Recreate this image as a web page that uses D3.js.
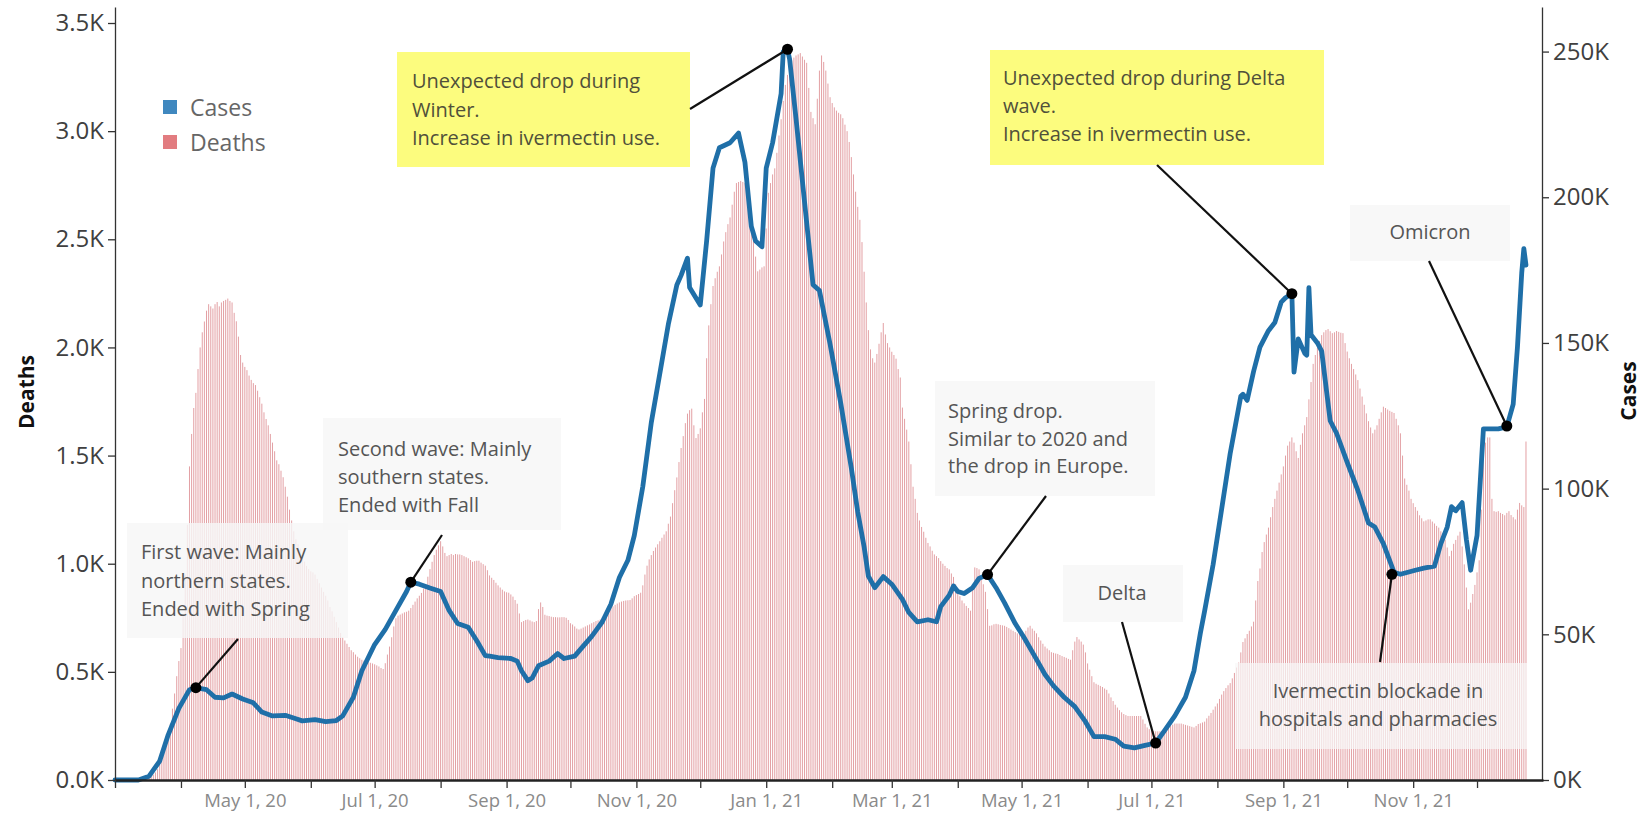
<!DOCTYPE html>
<html>
<head>
<meta charset="utf-8">
<script src="https://cdn.jsdelivr.net/npm/d3@7"></script>
<style>
    html, body { margin: 0; padding: 0; background: #fff; }
    svg { display: block; font-family: "Open Sans", sans-serif; }
</style>
</head>
<body>
<div id="chart"></div>
<script>
// Daily deaths (7-day average), one row per month, starting on the 1st
const deathMonths = [
    "2020-03", "2020-04", "2020-05", "2020-06", "2020-07", "2020-08", "2020-09", "2020-10", "2020-11", "2020-12",
    "2021-01", "2021-02", "2021-03", "2021-04", "2021-05", "2021-06", "2021-07", "2021-08", "2021-09", "2021-10",
    "2021-11", "2021-12"
];
const dailyDeaths = [
    [0, 0, 0, 0, 0, 0, 1, 1, 2, 2, 3, 4, 5, 6, 8, 10, 14, 18, 25, 35, 50, 70, 95, 130, 170, 210, 260, 330, 400, 480, 550],
    [610, 760, 950, 1180, 1450, 1600, 1720, 1790, 1900, 2000, 2070, 2120, 2170, 2200, 2190, 2180, 2200, 2210, 2190, 2208, 2215, 2220, 2226, 2215, 2208, 2160, 2121, 2050, 1965, 1930],
    [1910, 1895, 1870, 1850, 1835, 1826, 1800, 1770, 1740, 1700, 1669, 1640, 1600, 1560, 1520, 1478, 1460, 1430, 1400, 1356, 1310, 1250, 1200, 1150, 1113, 1090, 1070, 1040, 1010, 990, 975],
    [965, 960, 950, 930, 910, 890, 870, 852, 830, 800, 780, 755, 730, 705, 680, 660, 645, 630, 615, 600, 591, 580, 570, 563, 556, 552, 548, 545, 542, 539],
    [535, 530, 525, 518, 513, 540, 580, 617, 660, 710, 748, 760, 765, 770, 775, 778, 783, 795, 810, 825, 840, 852, 865, 885, 904, 940, 975, 1009, 1040, 1065, 1085],
    [1104, 1080, 1050, 1035, 1040, 1045, 1040, 1045, 1043, 1043, 1040, 1035, 1030, 1025, 1017, 1009, 1012, 1014, 1014, 1005, 998, 991, 970, 946, 935, 925, 912, 900, 890, 880, 872],
    [868, 866, 858, 848, 832, 815, 770, 730, 735, 740, 742, 738, 733, 730, 735, 790, 821, 800, 764, 760, 758, 755, 753, 753, 752, 752, 753, 753, 750, 740],
    [725, 719, 710, 700, 696, 700, 705, 710, 715, 719, 725, 730, 735, 738, 742, 752, 765, 777, 787, 795, 803, 810, 816, 821, 825, 828, 830, 831, 832, 840, 850],
    [855, 860, 866, 900, 950, 991, 1020, 1040, 1059, 1075, 1090, 1104, 1120, 1135, 1150, 1185, 1218, 1280, 1340, 1399, 1470, 1535, 1590, 1650, 1694, 1710, 1717, 1640, 1581, 1600],
    [1626, 1700, 1762, 1950, 2102, 2200, 2284, 2320, 2350, 2375, 2430, 2490, 2533, 2570, 2601, 2660, 2720, 2760, 2765, 2770, 2765, 2760, 2760, 2680, 2590, 2511, 2420, 2352, 2360, 2370, 2375],
    [2550, 2715, 2760, 2800, 2828, 2900, 2980, 3055, 3140, 3214, 3260, 3300, 3327, 3340, 3350, 3355, 3361, 3345, 3330, 3316, 3200, 3089, 3060, 3032, 3150, 3280, 3350, 3320, 3280, 3220, 3157],
    [3130, 3110, 3095, 3085, 3078, 3060, 3030, 3000, 2950, 2880, 2800, 2720, 2650, 2590, 2487, 2350, 2208, 2080, 1991, 1950, 1930, 1970, 2017, 2070, 2113, 2060, 2020, 2000],
    [1980, 1965, 1948, 1900, 1861, 1722, 1670, 1620, 1565, 1460, 1356, 1300, 1235, 1200, 1170, 1148, 1120, 1096, 1080, 1060, 1043, 1035, 1026, 1012, 1000, 990, 980, 974, 955, 939, 905],
    [870, 850, 830, 817, 805, 795, 783, 880, 983, 980, 974, 940, 905, 870, 790, 713, 715, 720, 722, 720, 717, 715, 713, 708, 702, 696, 690, 684, 678, 675],
    [672, 670, 690, 705, 713, 700, 690, 678, 660, 645, 630, 617, 608, 600, 591, 588, 585, 583, 578, 573, 569, 565, 560, 556, 600, 640, 661, 650, 640, 626, 590],
    [539, 510, 480, 452, 445, 440, 435, 430, 423, 417, 400, 382, 365, 348, 335, 323, 313, 305, 300, 296, 296, 296, 296, 296, 296, 296, 280, 260, 243, 235],
    [230, 226, 225, 225, 225, 226, 232, 238, 243, 250, 256, 261, 261, 261, 261, 258, 255, 252, 249, 246, 243, 250, 259, 262, 266, 270, 285, 297, 310, 325, 340],
    [354, 375, 395, 411, 425, 438, 448, 470, 495, 520, 543, 590, 638, 655, 675, 690, 710, 732, 830, 920, 978, 1054, 1100, 1135, 1167, 1215, 1262, 1300, 1338, 1375, 1413],
    [1450, 1500, 1546, 1565, 1584, 1560, 1520, 1489, 1550, 1603, 1640, 1678, 1760, 1840, 1924, 1965, 2000, 2030, 2057, 2070, 2080, 2085, 2075, 2066, 2070, 2076, 2072, 2068, 2066, 2020],
    [1981, 1950, 1924, 1900, 1875, 1849, 1810, 1773, 1735, 1695, 1659, 1630, 1603, 1620, 1640, 1670, 1700, 1726, 1720, 1713, 1707, 1702, 1697, 1670, 1640, 1603, 1500, 1394, 1365, 1338, 1300],
    [1280, 1262, 1245, 1224, 1210, 1196, 1200, 1205, 1205, 1195, 1186, 1175, 1167, 1150, 1130, 1111, 1075, 1035, 1060, 1092, 1110, 1130, 1148, 1080, 997, 890, 789, 820, 860, 902],
    [960, 1016, 1250, 1508, 1560, 1584, 1584, 1300, 1243, 1240, 1243, 1235, 1230, 1224, 1235, 1243, 1225, 1215, 1205, 1250, 1281, 1270, 1262, 1565]
];

// Daily cases (7-day average, thousands) read at the turning points of the line
const caseDates = [
    "2020-03-01", "2020-03-12", "2020-03-17", "2020-03-22", "2020-03-26", "2020-03-31", "2020-04-05", "2020-04-08",
    "2020-04-13", "2020-04-17", "2020-04-21", "2020-04-25", "2020-04-30", "2020-05-05", "2020-05-09", "2020-05-14",
    "2020-05-20", "2020-05-25", "2020-05-28", "2020-06-03", "2020-06-08", "2020-06-13", "2020-06-16", "2020-06-21",
    "2020-06-25", "2020-07-01", "2020-07-06", "2020-07-11", "2020-07-16", "2020-07-18", "2020-07-22", "2020-07-27",
    "2020-08-01", "2020-08-05", "2020-08-09", "2020-08-14", "2020-08-18", "2020-08-22", "2020-08-24", "2020-08-28",
    "2020-09-03", "2020-09-06", "2020-09-08", "2020-09-11", "2020-09-13", "2020-09-16", "2020-09-21", "2020-09-25",
    "2020-09-28", "2020-10-03", "2020-10-06", "2020-10-11", "2020-10-16", "2020-10-20", "2020-10-24", "2020-10-28",
    "2020-10-31", "2020-11-04", "2020-11-08", "2020-11-12", "2020-11-16", "2020-11-20", "2020-11-22", "2020-11-25",
    "2020-11-26", "2020-12-01", "2020-12-04", "2020-12-07", "2020-12-10", "2020-12-15", "2020-12-19", "2020-12-22",
    "2020-12-25", "2020-12-27", "2020-12-30", "2021-01-01", "2021-01-04", "2021-01-08", "2021-01-09", "2021-01-11",
    "2021-01-12", "2021-01-15", "2021-01-19", "2021-01-23", "2021-01-26", "2021-01-31", "2021-02-05", "2021-02-10",
    "2021-02-13", "2021-02-16", "2021-02-18", "2021-02-21", "2021-02-25", "2021-03-01", "2021-03-06", "2021-03-09",
    "2021-03-13", "2021-03-18", "2021-03-22", "2021-03-24", "2021-03-28", "2021-03-30", "2021-04-01", "2021-04-04",
    "2021-04-08", "2021-04-11", "2021-04-15", "2021-04-19", "2021-04-23", "2021-04-28", "2021-05-02", "2021-05-07",
    "2021-05-12", "2021-05-16", "2021-05-21", "2021-05-26", "2021-05-31", "2021-06-04", "2021-06-09", "2021-06-14",
    "2021-06-18", "2021-06-23", "2021-06-28", "2021-07-03", "2021-07-07", "2021-07-12", "2021-07-17", "2021-07-21",
    "2021-07-24", "2021-07-26", "2021-07-30", "2021-08-03", "2021-08-07", "2021-08-12", "2021-08-13", "2021-08-15",
    "2021-08-18", "2021-08-21", "2021-08-25", "2021-08-28", "2021-08-31", "2021-09-02", "2021-09-05", "2021-09-06",
    "2021-09-08", "2021-09-11", "2021-09-12", "2021-09-13", "2021-09-14", "2021-09-17", "2021-09-19", "2021-09-23",
    "2021-09-26", "2021-10-01", "2021-10-06", "2021-10-11", "2021-10-14", "2021-10-18", "2021-10-23", "2021-10-26",
    "2021-11-02", "2021-11-06", "2021-11-11", "2021-11-14", "2021-11-17", "2021-11-19", "2021-11-21", "2021-11-24",
    "2021-11-26", "2021-11-28", "2021-12-01", "2021-12-04", "2021-12-08", "2021-12-11", "2021-12-15", "2021-12-18",
    "2021-12-20", "2021-12-22", "2021-12-23", "2021-12-24"
];
const caseValues = [
    0, 0, 1.3, 6.5, 15.5, 24.6, 31, 31.7,
    31, 28.4, 28.2, 29.5, 27.8, 26.5, 23.3, 22,
    22.2, 21, 20.3, 20.7, 20, 20.4, 22, 28.4,
    37.5, 46.5, 51.7, 58.2, 64.7, 67.9, 67.2, 65.9,
    64.7, 58.2, 53.7, 52.4, 47.8, 42.7, 42.5, 42,
    41.7, 40.8, 37.5, 34.1, 35, 39.2, 40.8, 43.4,
    41.7, 42.5, 45.1, 49.3, 54.3, 60.3, 69.5, 75.4,
    83.9, 100.7, 122.7, 139.5, 156.4, 169.9, 173.2, 179.1,
    169, 163, 185, 210, 217, 218.7, 222, 212,
    190, 185, 183, 210, 218.7, 235.6, 250, 250.8,
    247.4, 227, 198.5, 170, 168, 149.6, 129.4, 107,
    92, 80, 70, 66, 69.8, 67.2, 62, 57.5,
    54.3, 55, 54.3, 59.5, 63.4, 66.6, 64.7, 64,
    66, 69.2, 70.5, 66, 60.8, 53.7, 49.1, 42.7,
    36.2, 32.3, 28.4, 25.2, 20, 14.9, 14.9, 14,
    11.6, 11, 11.9, 12.7, 16.8, 22, 28.4, 37.5,
    50.4, 58, 74, 93, 112, 131.7, 132.4, 130.3,
    140.2, 148.6, 154.2, 157, 164, 165.5, 166.9, 140,
    151.4, 146.5, 145.8, 169, 152.8, 150, 147.2, 123.3,
    119, 109, 99.4, 88.2, 86.8, 81.1, 71.3, 70.6,
    72, 72.7, 73.4, 81.1, 86.8, 93.8, 92.4, 95.2,
    82.5, 72, 83.9, 120.5, 120.5, 120.5, 121.2, 129,
    148.6, 174, 182.4, 176.7
];

// Axis ticks
const deathTicks = [0, 500, 1000, 1500, 2000, 2500, 3000, 3500];
const caseTicks = [0, 50, 100, 150, 200, 250];
const xLabelDates = ["2020-05-01", "2020-07-01", "2020-09-01", "2020-11-01", "2021-01-01",
    "2021-03-01", "2021-05-01", "2021-07-01", "2021-09-01", "2021-11-01"];

// Annotated points on the cases line
const notePoints = [
    {date: "2020-04-08", cases: 31.7, lines: ["First wave: Mainly", "northern states.", "Ended with Spring"]},
    {date: "2020-07-18", cases: 67.9, lines: ["Second wave: Mainly", "southern states.", "Ended with Fall"]},
    {date: "2021-01-11", cases: 250.8, lines: ["Unexpected drop during", "Winter.", "Increase in ivermectin use."]},
    {date: "2021-09-05", cases: 166.9, lines: ["Unexpected drop during Delta", "wave.", "Increase in ivermectin use."]},
    {date: "2021-04-15", cases: 70.5, lines: ["Spring drop.", "Similar to 2020 and", "the drop in Europe."]},
    {date: "2021-07-03", cases: 12.7, lines: ["Delta"]},
    {date: "2021-12-15", cases: 121.5, lines: ["Omicron"]},
    {date: "2021-10-22", cases: 70.6, lines: ["Ivermectin blockade in", "hospitals and pharmacies"]}
];

const W = 1644, H = 813;
const parse = d3.timeParse("%Y-%m-%d");

const deaths = deathMonths.flatMap((m, i) => {
    const start = parse(m + "-01");
    return dailyDeaths[i].map((v, k) => ({date: d3.timeDay.offset(start, k), value: v}));
});
const cases = caseDates.map((d, i) => ({date: parse(d), value: caseValues[i]}));

// Scales
const x = d3.scaleTime()
    .domain([parse("2020-03-01"), parse("2022-01-01")])
    .range([115, 1543]);
const yDeaths = d3.scaleLinear().domain([0, 3574]).range([780, 7]);
const yCases = d3.scaleLinear().domain([0, 265.3]).range([780, 7]);

const svg = d3.select("#chart").append("svg")
    .attr("width", W)
    .attr("height", H);

// Deaths bars
svg.append("g")
    .selectAll("rect")
    .data(deaths)
    .enter().append("rect")
    .attr("x", d => x(d.date) - 0.5)
    .attr("y", d => yDeaths(d.value))
    .attr("width", 1)
    .attr("height", d => yDeaths(0) - yDeaths(d.value))
    .attr("fill", "#e3a0a4");

// Annotation boxes (layout in pixels)
const boxLayout = [
    {box: [127, 523, 221, 115], tx: 141, ty: [559, 588, 616], from: [238, 639], fill: "rgba(246,246,246,0.82)", anchor: "start"},
    {box: [323, 418, 238, 112], tx: 338, ty: [456, 484, 512], from: [442, 535], fill: "rgba(246,246,246,0.82)", anchor: "start"},
    {box: [397, 52, 293, 115], tx: 412, ty: [88, 117, 145], from: [690, 109], fill: "#fcfc7e", anchor: "start"},
    {box: [990, 50, 334, 115], tx: 1003, ty: [85, 113, 141], from: [1157, 165], fill: "#fcfc7e", anchor: "start"},
    {box: [935, 381, 220, 115], tx: 948, ty: [418, 446, 473], from: [1046, 496], fill: "rgba(246,246,246,0.82)", anchor: "start"},
    {box: [1063, 565, 120, 57], tx: 1122, ty: [600], from: [1122, 622], fill: "rgba(246,246,246,0.82)", anchor: "middle"},
    {box: [1350, 205, 160, 56], tx: 1430, ty: [239], from: [1429, 261], fill: "rgba(246,246,246,0.82)", anchor: "middle"},
    {box: [1235, 663, 292, 86], tx: 1378, ty: [698, 726], from: [1380, 662], fill: "rgba(248,248,248,0.72)", anchor: "middle"}
];

const notes = svg.append("g");
boxLayout.forEach(b => {
    notes.append("rect")
        .attr("x", b.box[0]).attr("y", b.box[1])
        .attr("width", b.box[2]).attr("height", b.box[3])
        .attr("fill", b.fill);
});

// Cases line
const line = d3.line()
    .x(d => x(d.date))
    .y(d => yCases(d.value));

svg.append("path")
    .datum(cases)
    .attr("d", line)
    .attr("fill", "none")
    .attr("stroke", "#1f6fa8")
    .attr("stroke-width", 4.8)
    .attr("stroke-linejoin", "round")
    .attr("stroke-linecap", "round");

// Pointers, dots and texts
notePoints.forEach((p, i) => {
    const b = boxLayout[i];
    const px = x(parse(p.date)), py = yCases(p.cases);
    svg.append("line")
        .attr("x1", b.from[0]).attr("y1", b.from[1])
        .attr("x2", px).attr("y2", py)
        .attr("stroke", "#111")
        .attr("stroke-width", 2.2);
    svg.append("circle")
        .attr("cx", px).attr("cy", py)
        .attr("r", 5.5)
        .attr("fill", "#000");
    p.lines.forEach((t, k) => {
        svg.append("text")
            .attr("x", b.tx)
            .attr("y", b.ty[k])
            .attr("text-anchor", b.anchor)
            .style("font-size", "20px")
            .style("fill", i === 2 || i === 3 ? "#50503a" : "#555")
            .text(t);
    });
});

// Axes
const fmtDeaths = v => d3.format(".1f")(v / 1000) + "K";
const left = svg.append("g")
    .attr("transform", "translate(115,0)")
    .call(d3.axisLeft(yDeaths).tickValues(deathTicks).tickFormat(fmtDeaths).tickSize(7).tickSizeOuter(0).tickPadding(4));
const right = svg.append("g")
    .attr("transform", "translate(1542,0)")
    .call(d3.axisRight(yCases).tickValues(caseTicks).tickFormat(v => v + "K").tickSize(7).tickSizeOuter(0).tickPadding(4));
[left, right].forEach(g => {
    g.select(".domain").attr("stroke", "#333").attr("stroke-width", 1.3);
    g.selectAll(".tick line").attr("stroke", "#333").attr("stroke-width", 1.3);
    g.selectAll(".tick text")
        .style("font-size", "24px")
        .style("font-family", "Open Sans, sans-serif")
        .attr("fill", "#404040");
});

const labelSet = new Set(xLabelDates);
const fmtMonth = d3.timeFormat("%b %-d, %y");
const iso = d3.timeFormat("%Y-%m-%d");
const bottom = svg.append("g")
    .attr("transform", "translate(0,780)")
    .call(d3.axisBottom(x)
        .tickValues(d3.timeMonth.range(parse("2020-03-01"), parse("2022-01-01")))
        .tickFormat(d => labelSet.has(iso(d)) ? fmtMonth(d) : "")
        .tickSize(8).tickSizeOuter(0).tickPadding(6));
bottom.select(".domain").attr("stroke", "#222").attr("stroke-width", 2.4);
bottom.selectAll(".tick line").attr("stroke", "#333").attr("stroke-width", 1.3);
bottom.selectAll(".tick text")
    .style("font-size", "18.5px")
    .style("font-family", "Open Sans, sans-serif")
    .attr("fill", "#8a8a8a");

// Axis titles
svg.append("text")
    .attr("transform", "translate(34,392) rotate(-90)")
    .attr("text-anchor", "middle")
    .style("font-size", "21px")
    .style("font-weight", "bold")
    .style("fill", "#111")
    .text("Deaths");
svg.append("text")
    .attr("transform", "translate(1636,391) rotate(-90)")
    .attr("text-anchor", "middle")
    .style("font-size", "21px")
    .style("font-weight", "bold")
    .style("fill", "#111")
    .text("Cases");

// Legend
const legend = svg.append("g").attr("transform", "translate(163,100)");
[["Cases", "#3f88bf"], ["Deaths", "#e27c80"]].forEach(([name, col], i) => {
    legend.append("rect")
        .attr("x", 0).attr("y", i * 35)
        .attr("width", 14).attr("height", 14)
        .attr("fill", col);
    legend.append("text")
        .attr("x", 27).attr("y", i * 35 + 16)
        .style("font-size", "23px")
        .style("fill", "#666")
        .text(name);
});
</script>
</body>
</html>
